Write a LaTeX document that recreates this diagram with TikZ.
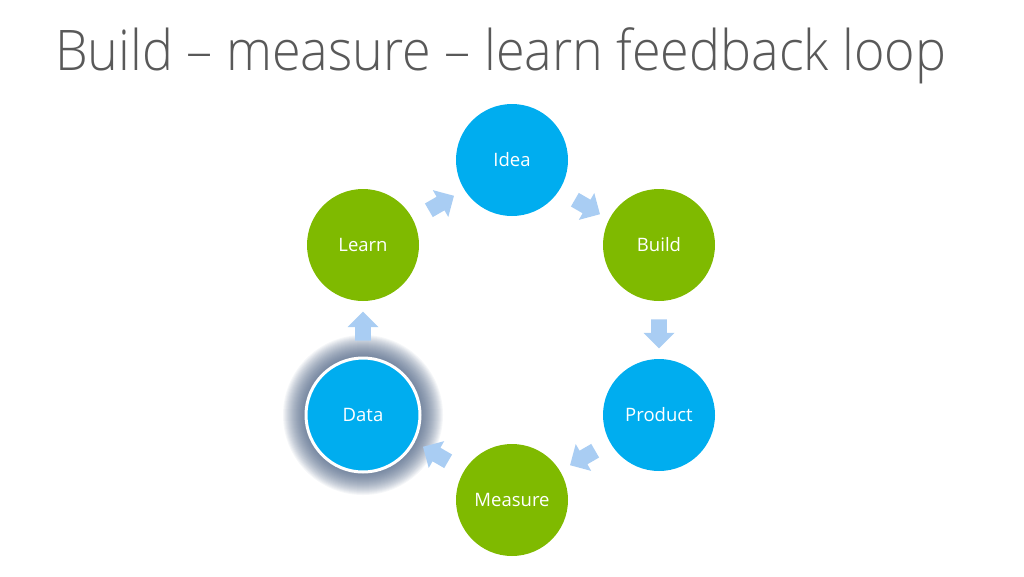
\documentclass[tikz,border=0pt]{standalone}
\usepackage{fontspec}
\usetikzlibrary{shapes.arrows}
\setmainfont{Open Sans}
\IfFontExistsTF{Open Sans Light}{\newfontfamily\titlefont{Open Sans Light}}{\newfontfamily\titlefont{Open Sans}}
\definecolor{ideablue}{HTML}{00ADEF}
\definecolor{leafgreen}{HTML}{7FBA00}
\definecolor{arrowblue}{HTML}{A9CDF3}
\definecolor{titlegray}{HTML}{595959}
\definecolor{glowgray}{HTML}{3C5478}
\tikzset{
  stage/.style={circle,minimum size=112pt,inner sep=0pt,text=white,font=\fontsize{18.5}{22}\selectfont},
  bluestage/.style={stage,fill=ideablue},
  greenstage/.style={stage,fill=leafgreen},
  blockarrow/.style={single arrow,fill=arrowblue,draw=none,minimum height=29pt,minimum width=31pt,
    single arrow head extend=7.5pt,inner sep=7.5pt}
}
\begin{document}
\begin{tikzpicture}[x=1pt,y=-1pt]
\useasboundingbox (0,0) rectangle (1024,576);
\node[anchor=base west,inner sep=0pt,text=titlegray,font=\titlefont\fontsize{56}{64}\selectfont] (title) at (55,70) {\scalebox{0.93}[1]{Build – measure – learn feedback loop}};
% glow round the data stage
\foreach \r in {80,79,...,57}
  \fill[glowgray,opacity=0.05] (363,415) circle (\r);
\node[bluestage] (idea) at (512,160) {Idea};
\node[greenstage] (build) at (659,245) {Build};
\node[bluestage] (product) at (659,415) {Product};
\node[greenstage] (measure) at (512,500) {Measure};
\node[bluestage,draw=white,line width=3pt,minimum size=114pt] (data) at (363,415) {Data};
\node[greenstage] (learn) at (363,245) {Learn};
% arrows between stages
\node[blockarrow,rotate=-30] (a1) at (584,205) {};
\node[blockarrow,rotate=-90] (a2) at (659,330) {};
\node[blockarrow,rotate=-150] (a3) at (586,456) {};
\node[blockarrow,rotate=150] (a4) at (439,456) {};
\node[blockarrow,rotate=90] (a5) at (363,330) {};
\node[blockarrow,rotate=30] (a6) at (438,205) {};
\end{tikzpicture}
\end{document}
